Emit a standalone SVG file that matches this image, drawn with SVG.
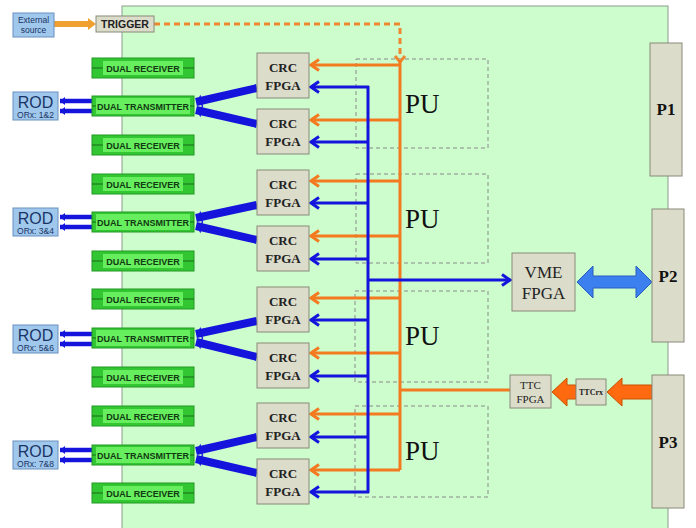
<svg xmlns="http://www.w3.org/2000/svg" width="696" height="528" viewBox="0 0 696 528">
<defs>
<style>
.board{fill:#cdfccd;stroke:#8c9c8c;stroke-width:1}
.gbox{fill:#dcdccb;stroke:#8a8a7a;stroke-width:1}
.bbox{fill:#a0c8ec;stroke:#6890c0;stroke-width:1}
.rxo{fill:#33c633;stroke:#229a22;stroke-width:1}
.rxi{fill:#66ee5e;stroke:none}
.rxl{stroke:#1a6a1a;stroke-width:1}
.rxt{font-family:"Liberation Sans",Arial,sans-serif;font-weight:bold;font-size:9px;fill:#123a12;text-anchor:middle}
.crc{font-family:"Liberation Serif","Times New Roman",serif;font-weight:bold;font-size:13px;fill:#222;text-anchor:middle}
.pu{fill:none;stroke:#8a8a8a;stroke-width:1;stroke-dasharray:4 3}
.put{font-family:"Liberation Serif","Times New Roman",serif;font-size:27px;fill:#111}
.blu{stroke:#1414dc;stroke-width:3;fill:none}
.org{stroke:#f47a20;stroke-width:3;fill:none}
.thk{stroke:#1414dc;stroke-width:8;fill:none}
.rodl{stroke:#1414dc;stroke-width:4.5;fill:none}
.rod{font-family:"Liberation Sans",Arial,sans-serif;font-size:16px;fill:#1a3466;text-anchor:middle}
.orx{font-family:"Liberation Sans",Arial,sans-serif;font-size:8.5px;fill:#1a3466;text-anchor:middle}
.pt{font-family:"Liberation Serif","Times New Roman",serif;font-weight:bold;font-size:17px;fill:#111;text-anchor:middle}
.ser{font-family:"Liberation Serif","Times New Roman",serif;fill:#222;text-anchor:middle}
</style>
<marker id="ab" viewBox="-10 -7 12 14" refX="0" refY="0" markerWidth="12" markerHeight="14" markerUnits="userSpaceOnUse" orient="auto">
<path d="M-8,-5.5 L0,0 L-8,5.5" fill="none" stroke="#1414dc" stroke-width="3"/>
</marker>
<marker id="ao" viewBox="-10 -7 12 14" refX="0" refY="0" markerWidth="12" markerHeight="14" markerUnits="userSpaceOnUse" orient="auto">
<path d="M-8,-5.5 L0,0 L-8,5.5" fill="none" stroke="#f47a20" stroke-width="3"/>
</marker>
<marker id="at" viewBox="-10 -8 12 16" refX="0" refY="0" markerWidth="12" markerHeight="16" markerUnits="userSpaceOnUse" orient="auto">
<path d="M-6,-6 L0,0 L-6,6 Z" fill="#1414dc"/>
</marker>
<marker id="ar" viewBox="-10 -8 12 16" refX="0" refY="0" markerWidth="12" markerHeight="16" markerUnits="userSpaceOnUse" orient="auto">
<path d="M-5,-4 L0,0 L-5,4 Z" fill="#1414dc"/>
</marker>
<g id="rx">
<rect class="rxo" x="0" y="0" width="102" height="20"/>
<rect class="rxi" x="11" y="3" width="80" height="14"/>
<line class="rxl" x1="0" y1="10" x2="11" y2="10"/>
<line class="rxl" x1="91" y1="10" x2="102" y2="10"/>
</g>
<g id="tx">
<rect class="rxo" x="0" y="0" width="102" height="20"/>
<rect class="rxi" x="4" y="2" width="94" height="16"/>
<line class="rxl" x1="0" y1="10" x2="4" y2="10"/>
<line class="rxl" x1="98" y1="10" x2="102" y2="10"/>
</g>
</defs>

<rect class="board" x="122" y="6" width="546" height="530"/>

<g id="pu-boxes">
<rect class="pu" x="356" y="59" width="132" height="89"/>
<rect class="pu" x="356" y="174" width="132" height="89"/>
<rect class="pu" x="355" y="291" width="133" height="91"/>
<rect class="pu" x="355" y="406" width="133" height="91"/>
</g>

<g id="connectors">
<line x1="54" y1="24" x2="90" y2="24" stroke="#f0a030" stroke-width="6"/>
<path d="M88,18 L96,24 L88,30 Z" fill="#f0a030"/>
<path d="M154,24 H400 V58" fill="none" stroke="#ee8830" stroke-width="3" stroke-dasharray="6 4"/>
<path d="M395,56 L400,62 L405,56" fill="none" stroke="#ee8830" stroke-width="3"/>
<path class="org" d="M400,60 V470"/>
<line class="org" x1="400" y1="65" x2="311" y2="65" marker-end="url(#ao)"/>
<line class="org" x1="400" y1="120" x2="311" y2="120" marker-end="url(#ao)"/>
<line class="org" x1="400" y1="181" x2="311" y2="181" marker-end="url(#ao)"/>
<line class="org" x1="400" y1="236" x2="311" y2="236" marker-end="url(#ao)"/>
<line class="org" x1="400" y1="298" x2="311" y2="298" marker-end="url(#ao)"/>
<line class="org" x1="400" y1="353" x2="311" y2="353" marker-end="url(#ao)"/>
<line class="org" x1="400" y1="414" x2="311" y2="414" marker-end="url(#ao)"/>
<line class="org" x1="400" y1="470" x2="311" y2="470" marker-end="url(#ao)"/>
<line class="org" x1="400" y1="390" x2="510" y2="390"/>
<path class="blu" d="M368,86 V493"/>
<line class="blu" x1="369" y1="87" x2="311" y2="87" marker-end="url(#ab)"/>
<line class="blu" x1="369" y1="142" x2="311" y2="142" marker-end="url(#ab)"/>
<line class="blu" x1="369" y1="203" x2="311" y2="203" marker-end="url(#ab)"/>
<line class="blu" x1="369" y1="259" x2="311" y2="259" marker-end="url(#ab)"/>
<line class="blu" x1="369" y1="320" x2="311" y2="320" marker-end="url(#ab)"/>
<line class="blu" x1="369" y1="376" x2="311" y2="376" marker-end="url(#ab)"/>
<line class="blu" x1="369" y1="437" x2="311" y2="437" marker-end="url(#ab)"/>
<line class="blu" x1="369" y1="492" x2="311" y2="492" marker-end="url(#ab)"/>
<line class="blu" x1="368" y1="280" x2="510" y2="280" marker-end="url(#ab)"/>
<line class="thk" x1="257" y1="88" x2="196" y2="102" marker-end="url(#at)"/>
<line class="thk" x1="257" y1="124" x2="196" y2="110" marker-end="url(#at)"/>
<line class="thk" x1="257" y1="205" x2="196" y2="218" marker-end="url(#at)"/>
<line class="thk" x1="257" y1="240" x2="196" y2="226" marker-end="url(#at)"/>
<line class="thk" x1="257" y1="321" x2="196" y2="334" marker-end="url(#at)"/>
<line class="thk" x1="257" y1="357" x2="196" y2="342" marker-end="url(#at)"/>
<line class="thk" x1="257" y1="437" x2="196" y2="451" marker-end="url(#at)"/>
<line class="thk" x1="257" y1="473" x2="196" y2="459" marker-end="url(#at)"/>
<line class="rodl" x1="92" y1="101" x2="60" y2="101" marker-end="url(#ar)"/>
<line class="rodl" x1="92" y1="111" x2="60" y2="111" marker-end="url(#ar)"/>
<line class="rodl" x1="92" y1="217" x2="60" y2="217" marker-end="url(#ar)"/>
<line class="rodl" x1="92" y1="227" x2="60" y2="227" marker-end="url(#ar)"/>
<line class="rodl" x1="92" y1="334" x2="60" y2="334" marker-end="url(#ar)"/>
<line class="rodl" x1="92" y1="344" x2="60" y2="344" marker-end="url(#ar)"/>
<line class="rodl" x1="92" y1="450" x2="60" y2="450" marker-end="url(#ar)"/>
<line class="rodl" x1="92" y1="460" x2="60" y2="460" marker-end="url(#ar)"/>
<path d="M577,282 L593,266 L593,276 L636,276 L636,266 L652,282 L636,298 L636,288 L593,288 L593,298 Z" fill="#3c80f0" stroke="#2a5cc0" stroke-width="1"/>
<path d="M652,385 L622,385 L622,378 L607,392 L622,406 L622,399 L652,399 Z" fill="#ff6a10" stroke="#c85000" stroke-width="1"/>
<path d="M576,385 L567,385 L567,378 L552,392 L567,406 L567,399 L576,399 Z" fill="#ff6a10" stroke="#c85000" stroke-width="1"/>
</g>

<g id="ext"><rect class="bbox" x="13" y="13" width="41" height="24"/>
<text x="33.5" y="23" class="orx" style="font-size:8.5px">External</text>
<text x="33.5" y="33" class="orx" style="font-size:8.5px">source</text></g>
<g id="trigger"><rect class="gbox" x="96" y="16" width="58" height="16"/>
<text x="125" y="28" style="font-family:'Liberation Sans',Arial,sans-serif;font-weight:bold;font-size:10.5px;fill:#222;text-anchor:middle">TRIGGER</text></g>

<g id="rx1"><use href="#rx" x="92" y="58"/><text class="rxt" x="143" y="71.5">DUAL RECEIVER</text></g>
<g id="tx1"><use href="#tx" x="92" y="96"/><text class="rxt" x="143" y="109.5">DUAL TRANSMITTER</text></g>
<g id="rx2"><use href="#rx" x="92" y="135"/><text class="rxt" x="143" y="148.5">DUAL RECEIVER</text></g>
<g id="rx3"><use href="#rx" x="92" y="174"/><text class="rxt" x="143" y="187.5">DUAL RECEIVER</text></g>
<g id="tx2"><use href="#tx" x="92" y="212"/><text class="rxt" x="143" y="225.5">DUAL TRANSMITTER</text></g>
<g id="rx4"><use href="#rx" x="92" y="251"/><text class="rxt" x="143" y="264.5">DUAL RECEIVER</text></g>
<g id="rx5"><use href="#rx" x="92" y="289"/><text class="rxt" x="143" y="302.5">DUAL RECEIVER</text></g>
<g id="tx3"><use href="#tx" x="92" y="328"/><text class="rxt" x="143" y="341.5">DUAL TRANSMITTER</text></g>
<g id="rx6"><use href="#rx" x="92" y="367"/><text class="rxt" x="143" y="380.5">DUAL RECEIVER</text></g>
<g id="rx7"><use href="#rx" x="92" y="406"/><text class="rxt" x="143" y="419.5">DUAL RECEIVER</text></g>
<g id="tx4"><use href="#tx" x="92" y="445"/><text class="rxt" x="143" y="458.5">DUAL TRANSMITTER</text></g>
<g id="rx8"><use href="#rx" x="92" y="483"/><text class="rxt" x="143" y="496.5">DUAL RECEIVER</text></g>

<g id="rod1"><rect class="bbox" x="13" y="92" width="45" height="28"/><text class="rod" x="35.5" y="108">ROD</text><text class="orx" x="35.5" y="117.5">ORx: 1&amp;2</text></g>
<g id="rod2"><rect class="bbox" x="13" y="208" width="45" height="28"/><text class="rod" x="35.5" y="224">ROD</text><text class="orx" x="35.5" y="233.5">ORx: 3&amp;4</text></g>
<g id="rod3"><rect class="bbox" x="13" y="325" width="45" height="28"/><text class="rod" x="35.5" y="341">ROD</text><text class="orx" x="35.5" y="350.5">ORx: 5&amp;6</text></g>
<g id="rod4"><rect class="bbox" x="13" y="441" width="45" height="28"/><text class="rod" x="35.5" y="457">ROD</text><text class="orx" x="35.5" y="466.5">ORx: 7&amp;8</text></g>

<g id="crc1"><rect class="gbox" x="257" y="53" width="52" height="45"/><text class="crc" x="283" y="72">CRC</text><text class="crc" x="283" y="90">FPGA</text></g>
<g id="crc2"><rect class="gbox" x="257" y="109" width="52" height="45"/><text class="crc" x="283" y="128">CRC</text><text class="crc" x="283" y="146">FPGA</text></g>
<g id="crc3"><rect class="gbox" x="257" y="170" width="52" height="45"/><text class="crc" x="283" y="189">CRC</text><text class="crc" x="283" y="207">FPGA</text></g>
<g id="crc4"><rect class="gbox" x="257" y="226" width="52" height="45"/><text class="crc" x="283" y="245">CRC</text><text class="crc" x="283" y="263">FPGA</text></g>
<g id="crc5"><rect class="gbox" x="257" y="287" width="52" height="45"/><text class="crc" x="283" y="306">CRC</text><text class="crc" x="283" y="324">FPGA</text></g>
<g id="crc6"><rect class="gbox" x="257" y="343" width="52" height="45"/><text class="crc" x="283" y="362">CRC</text><text class="crc" x="283" y="380">FPGA</text></g>
<g id="crc7"><rect class="gbox" x="257" y="403" width="52" height="45"/><text class="crc" x="283" y="422">CRC</text><text class="crc" x="283" y="440">FPGA</text></g>
<g id="crc8"><rect class="gbox" x="257" y="459" width="52" height="45"/><text class="crc" x="283" y="478">CRC</text><text class="crc" x="283" y="496">FPGA</text></g>

<g id="pu1"><text class="put" x="405" y="113">PU</text></g>
<g id="pu2"><text class="put" x="405" y="228">PU</text></g>
<g id="pu3"><text class="put" x="405" y="345">PU</text></g>
<g id="pu4"><text class="put" x="405" y="460">PU</text></g>

<g id="vme"><rect class="gbox" x="512" y="253" width="63" height="58"/>
<text class="ser" x="543.5" y="278" style="font-size:17px">VME</text>
<text class="ser" x="543.5" y="299" style="font-size:17px">FPGA</text></g>
<g id="ttc"><rect class="gbox" x="510" y="375" width="41" height="33"/>
<text class="ser" x="530.5" y="389" style="font-size:11px">TTC</text>
<text class="ser" x="530.5" y="403" style="font-size:11px">FPGA</text></g>
<g id="ttcrx"><rect class="gbox" x="576" y="379" width="30" height="26"/>
<text class="ser" x="591" y="395" style="font-size:8px;font-weight:bold">TTCrx</text></g>

<g id="p1"><rect class="gbox" x="650" y="43" width="32" height="133"/><text class="pt" x="666" y="115">P1</text></g>
<g id="p2"><rect class="gbox" x="652" y="209" width="32" height="133"/><text class="pt" x="668" y="282">P2</text></g>
<g id="p3"><rect class="gbox" x="652" y="375" width="32" height="133"/><text class="pt" x="668" y="448">P3</text></g>
</svg>
